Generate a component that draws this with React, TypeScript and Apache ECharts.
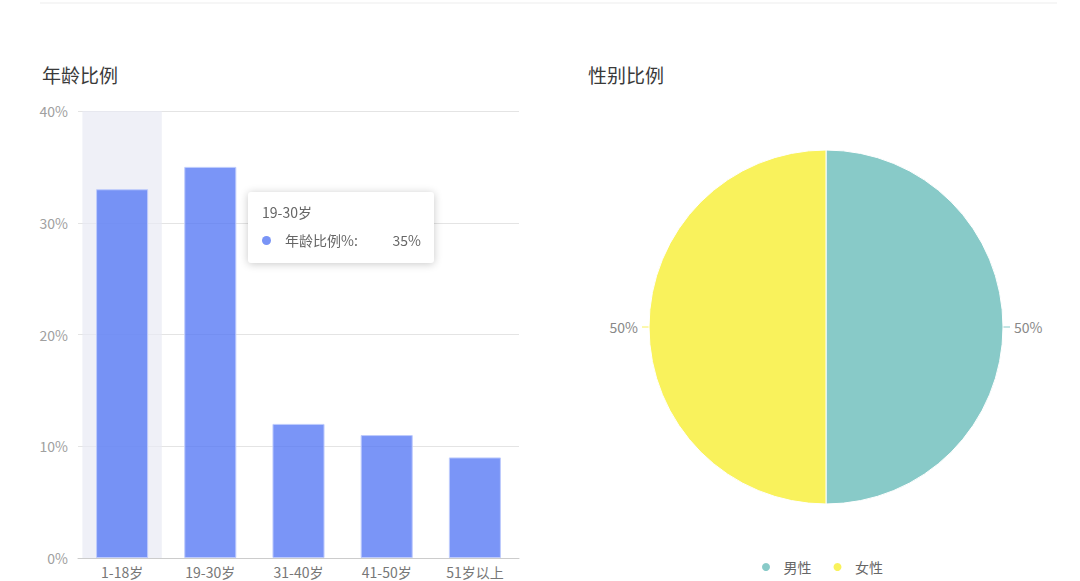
import { useEffect, useRef } from "react";
import * as echarts from "echarts";

const FONT = "'Noto Sans CJK SC', 'Noto Sans', sans-serif";

// 年龄比例 (bar)
const AGE_GROUPS = ["1-18岁", "19-30岁", "31-40岁", "41-50岁", "51岁以上"];
const AGE_SHARE = [33, 35, 12, 11, 9];
const AGE_SERIES_NAME = "年龄比例%";
const Y_MIN = 0;
const Y_MAX = 40;
const Y_STEP = 10;
const SHADED_INDEX = 0; // band under the axis pointer
const TOOLTIP_INDEX = 1; // category shown in the tooltip

// 性别比例 (pie)
const GENDERS = ["男性", "女性"];
const GENDER_SHARE = [50, 50];
const GENDER_COLORS = ["#88cac8", "#f9f25c"];

const BAR_COLOR = "rgba(80,116,244,0.76)";

function buildOption(): echarts.EChartsOption {
  return {
    animation: false,
    textStyle: { fontFamily: FONT },
    title: [
      { text: "年龄比例", left: 37, top: 60, textStyle: { fontFamily: FONT, fontSize: 19, fontWeight: "normal", color: "#3a3a3a" } },
      { text: "性别比例", left: 583, top: 60, textStyle: { fontFamily: FONT, fontSize: 19, fontWeight: "normal", color: "#3a3a3a" } },
    ],
    tooltip: {
      trigger: "item",
      alwaysShowContent: true,
      transitionDuration: 0,
      position: [248, 192],
      padding: 0,
      borderWidth: 0,
      backgroundColor: "#fff",
      extraCssText: "box-shadow:0 1px 8px rgba(0,0,0,0.22);border-radius:3px;",
      formatter: (p: any) =>
        `<div style="width:159px;padding:10px 13px 12px 14px;font-family:${FONT.replace(/'/g, "")};color:#666;font-size:14px;">` +
        `<div style="line-height:21px">${p.name}</div>` +
        `<div style="display:flex;align-items:center;line-height:21px;margin-top:7px">` +
        `<span style="display:inline-block;width:9px;height:9px;border-radius:50%;background:#7994f6;margin-right:14px"></span>` +
        `<span>${p.seriesName}:</span><span style="margin-left:auto">${p.value}%</span></div></div>`,
    },
    legend: {
      data: GENDERS,
      left: 755,
      top: 555,
      icon: "circle",
      itemWidth: 25,
      itemHeight: 10,
      itemGap: 20,
      textStyle: { fontFamily: FONT, fontSize: 14, color: "#666" },
    },
    grid: { left: 78, right: 561, top: 111, bottom: 23 },
    xAxis: [
      {
        type: "category",
        data: AGE_GROUPS,
        axisLine: { lineStyle: { color: "#ccc" } },
        axisTick: { alignWithLabel: true, length: 4, lineStyle: { color: "#ccc" } },
        axisLabel: { fontFamily: FONT, fontSize: 14, color: "#777", margin: 7 },
      },
      { type: "category", data: AGE_GROUPS, show: false },
    ],
    yAxis: {
      type: "value",
      min: Y_MIN,
      max: Y_MAX,
      interval: Y_STEP,
      axisLine: { show: false },
      axisTick: { show: false },
      axisLabel: { fontFamily: FONT, fontSize: 14, color: "#a0a0a0", margin: 10, formatter: "{value}%" },
      splitLine: { lineStyle: { color: "#e4e4e4" } },
    },
    series: [
      {
        type: "bar",
        xAxisIndex: 1,
        silent: true,
        tooltip: { show: false },
        barWidth: "90%",
        itemStyle: { color: "rgba(232,234,243,0.7)" },
        data: AGE_GROUPS.map((_, i) => (i === SHADED_INDEX ? Y_MAX : "-")),
        z: 1,
      },
      {
        type: "bar",
        name: AGE_SERIES_NAME,
        barWidth: "59%",
        itemStyle: { color: BAR_COLOR, borderColor: "rgba(190,203,252,1)", borderWidth: 1 },
        emphasis: { disabled: true },
        data: AGE_SHARE,
      },
      {
        type: "pie",
        center: [826, 327],
        radius: 177,
        startAngle: 90,
        tooltip: { show: false },
        emphasis: { disabled: true },
        itemStyle: { borderColor: "#fff", borderWidth: 1 },
        label: { formatter: "{d}%", fontFamily: FONT, fontSize: 14, color: "#888", distanceToLabelLine: 4 },
        labelLine: { length: 3, length2: 4 },
        data: GENDERS.map((name, i) => ({ name, value: GENDER_SHARE[i], itemStyle: { color: GENDER_COLORS[i] } })),
      },
    ],
  };
}

function Charts() {
  const ref = useRef<HTMLDivElement>(null);
  useEffect(() => {
    if (!ref.current) return;
    const chart = echarts.init(ref.current, null, { renderer: "svg" });
    chart.setOption(buildOption());
    chart.dispatchAction({ type: "showTip", seriesIndex: 1, dataIndex: TOOLTIP_INDEX });
    return () => chart.dispose();
  }, []);
  return <div ref={ref} style={{ position: "absolute", left: 0, top: 0, width: 1080, height: 581 }} />;
}

export default function App() {
  return (
    <div style={{ position: "relative", width: 1080, height: 581, background: "#fff", overflow: "hidden" }}>
      <style>{"body{margin:0;background:#fff}"}</style>
      <div style={{ position: "absolute", left: 40, top: 2, width: 1017, borderTop: "2px solid #f6f6f6" }} />
      <Charts />
    </div>
  );
}
